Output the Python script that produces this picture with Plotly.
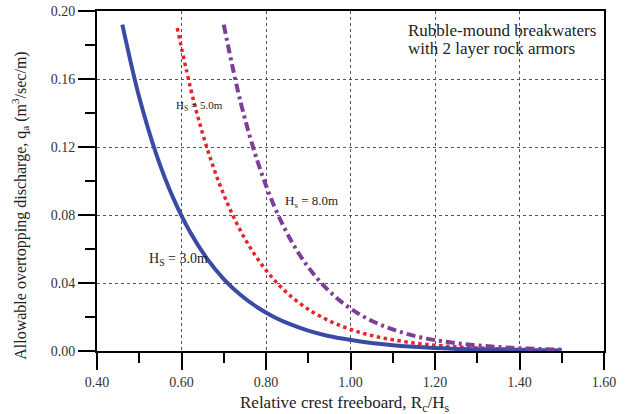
import plotly.graph_objects as go

# Relative crest freeboard Rc/Hs and allowable discharge (m3/sec/m)
x_hs3 = [0.46, 0.50, 0.54, 0.58, 0.62, 0.66, 0.70, 0.74, 0.78, 0.82, 0.86, 0.90, 0.94, 0.98,
         1.02, 1.06, 1.10, 1.14, 1.18, 1.22, 1.26, 1.30, 1.34, 1.38, 1.42, 1.46, 1.50]
q_hs3 = [0.192, 0.1492, 0.1160, 0.0902, 0.0701, 0.0545, 0.0423, 0.0329, 0.0256, 0.0199, 0.0155,
         0.0120, 0.0093, 0.0073, 0.0057, 0.0044, 0.0034, 0.0026, 0.0020, 0.0016, 0.0012, 0.0010,
         0.0008, 0.0006, 0.0005, 0.0004, 0.0003]

x_hs5 = [0.59, 0.63, 0.67, 0.71, 0.75, 0.79, 0.83, 0.87, 0.91, 0.95, 0.99, 1.03, 1.07, 1.11,
         1.15, 1.19, 1.23, 1.27, 1.31, 1.35, 1.39, 1.43]
q_hs5 = [0.190, 0.1459, 0.1121, 0.0861, 0.0661, 0.0508, 0.0390, 0.0299, 0.0230, 0.0177, 0.0136,
         0.0104, 0.0080, 0.0062, 0.0047, 0.0036, 0.0028, 0.0022, 0.0017, 0.0013, 0.0010, 0.0008]

x_hs8 = [0.70, 0.74, 0.78, 0.82, 0.86, 0.90, 0.94, 0.98, 1.02, 1.06, 1.10, 1.14, 1.18, 1.22,
         1.26, 1.30, 1.34, 1.38, 1.42, 1.46, 1.50]
q_hs8 = [0.192, 0.1463, 0.1115, 0.0849, 0.0647, 0.0493, 0.0376, 0.0286, 0.0218, 0.0166, 0.0127,
         0.0096, 0.0073, 0.0056, 0.0043, 0.0033, 0.0025, 0.0019, 0.0014, 0.0011, 0.0008]

x_ticks = [0.40, 0.60, 0.80, 1.00, 1.20, 1.40, 1.60]
y_ticks = [0.00, 0.04, 0.08, 0.12, 0.16, 0.20]

SERIF = "Liberation Serif, Times New Roman, serif"

fig = go.Figure()
fig.add_trace(go.Scatter(x=x_hs5, y=q_hs5, mode="lines", line=dict(color="#E8232B", width=3.5, dash="dot", shape="spline"), hoverinfo="skip"))
fig.add_trace(go.Scatter(x=x_hs3, y=q_hs3, mode="lines", line=dict(color="#3A4BA5", width=4, shape="spline"), hoverinfo="skip"))
fig.add_trace(go.Scatter(x=x_hs8, y=q_hs8, mode="lines", line=dict(color="#7D3E9A", width=4, dash="9px,4px,3px,4px", shape="spline"), hoverinfo="skip"))

axis_common = dict(
    showline=True, linecolor="black", linewidth=2, mirror=True,
    showgrid=True, gridcolor="#555555", griddash="dot", gridwidth=1,
    zeroline=False, ticks="outside", ticklen=17, tickwidth=2, tickcolor="black",
    tickfont=dict(family=SERIF, size=14, color="#333333"), automargin=False,
)

fig.update_xaxes(range=[0.4, 1.6], tickvals=x_ticks, ticktext=[f"{v:.2f}" for v in x_ticks],
                 minor=dict(dtick=0.1, tick0=0.4, ticks="outside", ticklen=10, tickwidth=2, tickcolor="black", showgrid=False),
                 **axis_common)
fig.update_yaxes(range=[0, 0.2], tickvals=y_ticks, ticktext=[f"{v:.2f}" for v in y_ticks],
                 minor=dict(dtick=0.02, tick0=0, ticks="outside", ticklen=10, tickwidth=2, tickcolor="black", showgrid=False),
                 **axis_common)

annos = [
    dict(x=0.642, y=0.144, text="H<sub>S</sub> = 5.0m", size=11),
    dict(x=0.908, y=0.088, text="H<sub>s</sub> = 8.0m", size=13),
    dict(x=0.592, y=0.054, text="H<sub>S</sub> = 3.0m", size=14),
]
for a in annos:
    fig.add_annotation(x=a["x"], y=a["y"], text=a["text"], showarrow=False, xref="x", yref="y",
                       font=dict(family=SERIF, color="#222222", size=a["size"]))

note_lines = ["Rubble-mound breakwaters", "with 2 layer rock armors"]
for line, yv in zip(note_lines, [0.1885, 0.1778]):
    fig.add_annotation(x=1.131, y=yv, xref="x", yref="y", xanchor="left", yanchor="middle",
                       text=line, align="left", showarrow=False,
                       font=dict(family=SERIF, size=17, color="#222222"))

fig.add_annotation(x=-0.152, y=0.427, xref="paper", yref="paper", xanchor="center", yanchor="middle",
                   textangle=-90, showarrow=False,
                   text="Allowable overtopping discharge, q<sub>a</sub> (m<sup>3</sup>/sec/m)",
                   font=dict(family=SERIF, size=16, color="#222222"))
fig.add_annotation(x=0.489, y=-0.155, xref="paper", yref="paper", xanchor="center", yanchor="middle",
                   showarrow=False,
                   text="Relative crest freeboard, R<sub>c</sub>/H<sub>s</sub>",
                   font=dict(family=SERIF, size=17, color="#222222"))

fig.update_layout(width=629, height=414, margin=dict(l=97, r=25, t=11, b=63),
                  plot_bgcolor="white", paper_bgcolor="white", showlegend=False)

fig.write_html("out.html", config={"displayModeBar": False},
               post_script="document.body.style.margin='0';")
